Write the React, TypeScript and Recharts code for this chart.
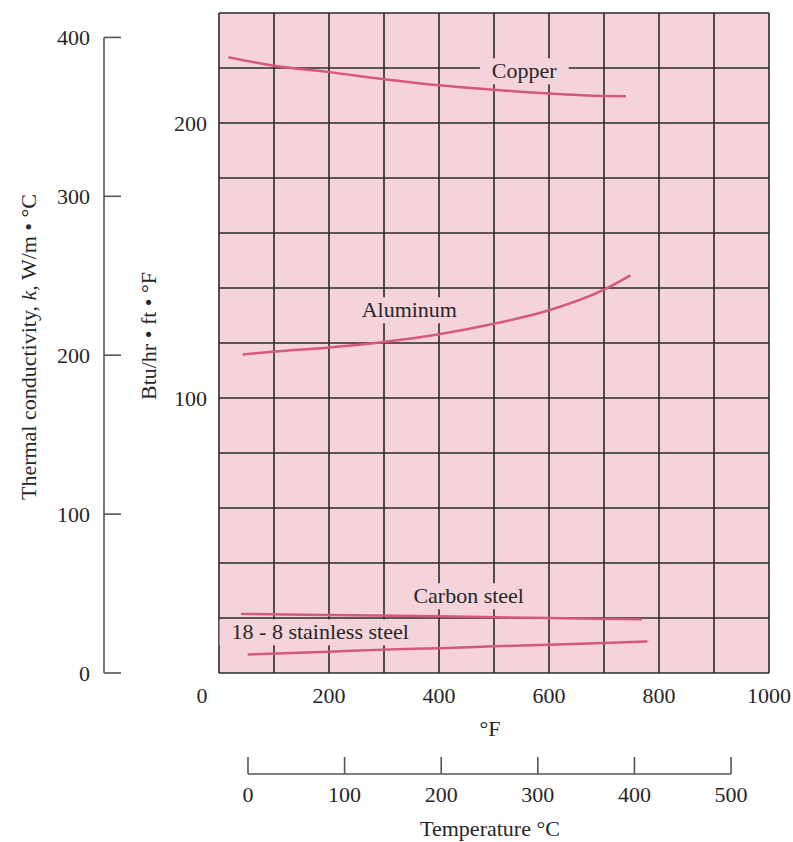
import { LineChart, Line, XAxis, YAxis, CartesianGrid, ReferenceDot } from "recharts";

// axis ticks
const fahrenheitTicks = [0, 100, 200, 300, 400, 500, 600, 700, 800, 900, 1000];
const fahrenheitLabels = [0, 200, 400, 600, 800, 1000];
const celsiusTicks = [0, 100, 200, 300, 400, 500];
const btuTicks = [0, 20, 40, 60, 80, 100, 120, 140, 160, 180, 200, 220, 240];
const btuLabels = [100, 200];
const wattTicks = [0, 100, 200, 300, 400];

// curves: temperature in °F, k in Btu/hr·ft·°F
const copperF = [17, 100, 200, 300, 400, 500, 600, 700, 740];
const copperK = [223.9, 220.8, 218.5, 215.9, 213.7, 212.1, 210.7, 209.8, 209.7];
const aluminumF = [43, 100, 200, 300, 400, 500, 600, 700, 748];
const aluminumK = [115.8, 116.9, 118.4, 120.4, 123.2, 127.0, 131.9, 139.4, 144.6];
const carbonSteelF = [40, 200, 400, 600, 769];
const carbonSteelK = [21.5, 21.1, 20.6, 20.0, 19.5];
const stainlessF = [52, 200, 300, 400, 500, 600, 700, 779];
const stainlessK = [6.7, 7.7, 8.5, 9.0, 9.7, 10.3, 10.9, 11.5];

// curve names and where their labels sit (°F, Btu)
const seriesNames = ["Copper", "Aluminum", "Carbon steel", "18 - 8 stainless steel"];
const labelF = [555, 346, 454, 184];
const labelK = [218.8, 131.9, 27.9, 14.8];

const W_PER_BTU = 1.7307;
const BTU_MAX = 240;
const C_MIN = -30;
const C_MAX = 539.3;

const WIDTH = 793;
const HEIGHT = 842;
const MARGIN = { top: 13, right: 24, bottom: 8, left: 0 };
const BTU_AXIS_W = 115;
const W_AXIS_W = 104;
const F_AXIS_H = 101;
const C_AXIS_H = 60;
const PLOT_W = WIDTH - MARGIN.left - MARGIN.right - BTU_AXIS_W - W_AXIS_W;
const PLOT_H = HEIGHT - MARGIN.top - MARGIN.bottom - F_AXIS_H - C_AXIS_H;

const FONT = '"Liberation Serif", "Times New Roman", serif';
const FS = 22;
const INK = "#262626";
const PLOT_BG = "#f4d3db";
const CURVE = "#d6587c";
const GRID = "#2a2a2a";
const SCALE_INK = "#555";

const pairs = (xs: number[], ys: number[]) => xs.map((f, i) => ({ f, k: ys[i] }));
const curves = [
  pairs(copperF, copperK),
  pairs(aluminumF, aluminumK),
  pairs(carbonSteelF, carbonSteelK),
  pairs(stainlessF, stainlessK),
];
// empty helper so the °C scale has something bound to it
const celsiusHelper = celsiusTicks.map((c) => ({ c }));

let ctx: CanvasRenderingContext2D | null = null;
function textWidth(s: string) {
  if (!ctx) ctx = document.createElement("canvas").getContext("2d");
  if (!ctx) return s.length * FS * 0.45;
  ctx.font = `${FS}px ${FONT}`;
  return ctx.measureText(s).width;
}

function FTick({ x, y, payload }: any) {
  const v = payload.value;
  if (!fahrenheitLabels.includes(v)) return <g />;
  return (
    <text x={v === 0 ? x - 17 : x} y={y + 30} textAnchor="middle" fontFamily={FONT} fontSize={FS} fill={INK}>
      {v}
    </text>
  );
}

function CelsiusTick({ x, y, payload }: any) {
  const v = payload.value;
  const step = (PLOT_W * 100) / (C_MAX - C_MIN);
  const last = celsiusTicks[celsiusTicks.length - 1];
  return (
    <g>
      {v < last && <line x1={x} y1={y} x2={x + step} y2={y} stroke={SCALE_INK} strokeWidth={1.6} />}
      <line x1={x} y1={y} x2={x} y2={y - 17} stroke={SCALE_INK} strokeWidth={1.6} />
      <text x={x} y={y + 28} textAnchor="middle" fontFamily={FONT} fontSize={FS} fill={INK}>
        {v}
      </text>
    </g>
  );
}

function BtuTick({ x, y, payload }: any) {
  const v = payload.value;
  if (!btuLabels.includes(v)) return <g />;
  return (
    <text x={x} y={y + 8} textAnchor="end" fontFamily={FONT} fontSize={FS} fill={INK}>
      {v}
    </text>
  );
}

function WattTick({ x, y, payload }: any) {
  const v = payload.value;
  const step = (PLOT_H * 100) / (BTU_MAX * W_PER_BTU);
  return (
    <g>
      {v > 0 && <line x1={x} y1={y} x2={x} y2={y + step} stroke={SCALE_INK} strokeWidth={1.6} />}
      <line x1={x} y1={y} x2={x + 17} y2={y} stroke={SCALE_INK} strokeWidth={1.6} />
      <text x={x - 14} y={y + 8} textAnchor="end" fontFamily={FONT} fontSize={FS} fill={INK}>
        {v}
      </text>
    </g>
  );
}

function SeriesLabel({ viewBox, text }: any) {
  const cx = viewBox.x + (viewBox.width || 0) / 2;
  const cy = viewBox.y + (viewBox.height || 0) / 2;
  const w = textWidth(text) + 24;
  return (
    <g>
      <rect x={cx - w / 2} y={cy - 13} width={w} height={26} fill={PLOT_BG} />
      <text x={cx} y={cy + 7} textAnchor="middle" fontFamily={FONT} fontSize={FS} fill={INK}>
        {text}
      </text>
    </g>
  );
}

export default function App() {
  return (
    <div style={{ width: WIDTH, height: HEIGHT, background: "#fff" }}>
      <style>{"body{margin:0;}"}</style>
      <LineChart width={WIDTH} height={HEIGHT} margin={MARGIN}>
        <XAxis
          xAxisId="x1"
          dataKey="f"
          type="number"
          domain={[0, 1000]}
          ticks={fahrenheitTicks}
          interval={0}
          height={F_AXIS_H}
          tickSize={0}
          tickMargin={0}
          axisLine={false}
          tickLine={false}
          tick={(p: any) => <FTick {...p} />}
          label={{
            content: (p: any) => (
              <text
                x={p.viewBox.x + p.viewBox.width / 2 - 4}
                y={p.viewBox.y + 63}
                textAnchor="middle"
                fontFamily={FONT}
                fontSize={FS}
                fill={INK}
              >
                °F
              </text>
            ),
          }}
        />
        <XAxis
          xAxisId="x2"
          dataKey="c"
          type="number"
          domain={[C_MIN, C_MAX]}
          allowDataOverflow
          ticks={celsiusTicks}
          interval={0}
          height={C_AXIS_H}
          tickSize={0}
          tickMargin={0}
          axisLine={false}
          tickLine={false}
          tick={(p: any) => <CelsiusTick {...p} />}
          label={{
            content: (p: any) => (
              <text
                x={p.viewBox.x + p.viewBox.width / 2 - 4}
                y={p.viewBox.y + 62}
                textAnchor="middle"
                fontFamily={FONT}
                fontSize={FS}
                fill={INK}
              >
                Temperature °C
              </text>
            ),
          }}
        />
        <YAxis
          yAxisId="y1"
          type="number"
          domain={[0, BTU_MAX]}
          ticks={btuTicks}
          interval={0}
          width={BTU_AXIS_W}
          tickSize={0}
          tickMargin={12}
          axisLine={false}
          tickLine={false}
          tick={(p: any) => <BtuTick {...p} />}
          label={{
            content: (p: any) => {
              const cx = p.viewBox.x + 44;
              const cy = p.viewBox.y + p.viewBox.height / 2 - 7;
              return (
                <text
                  transform={`translate(${cx},${cy}) rotate(-90)`}
                  textAnchor="middle"
                  dominantBaseline="central"
                  fontFamily={FONT}
                  fontSize={FS}
                  fill={INK}
                >
                  Btu/hr • ft • °F
                </text>
              );
            },
          }}
        />
        <YAxis
          yAxisId="y2"
          type="number"
          domain={[0, BTU_MAX * W_PER_BTU]}
          allowDataOverflow
          ticks={wattTicks}
          interval={0}
          width={W_AXIS_W}
          tickSize={0}
          tickMargin={0}
          axisLine={false}
          tickLine={false}
          tick={(p: any) => <WattTick {...p} />}
          label={{
            content: (p: any) => {
              const cx = p.viewBox.x + 28;
              const cy = p.viewBox.y + p.viewBox.height / 2 + 4;
              return (
                <text
                  transform={`translate(${cx},${cy}) rotate(-90)`}
                  textAnchor="middle"
                  dominantBaseline="central"
                  fontFamily={FONT}
                  fontSize={FS}
                  fill={INK}
                >
                  Thermal conductivity, <tspan fontStyle="italic">k</tspan>, W/m • °C
                </text>
              );
            },
          }}
        />
        <CartesianGrid
          xAxisId="x1"
          yAxisId="y1"
          stroke={GRID}
          strokeWidth={1.6}
          fill={PLOT_BG}
          fillOpacity={1}
        />
        {seriesNames.map((name, i) => (
          <ReferenceDot
            key={name}
            xAxisId="x1"
            yAxisId="y1"
            x={labelF[i]}
            y={labelK[i]}
            r={0}
            fill="none"
            stroke="none"
            label={{ content: (p: any) => <SeriesLabel viewBox={p.viewBox} text={name} /> }}
          />
        ))}
        {curves.map((data, i) => (
          <Line
            key={seriesNames[i]}
            xAxisId="x1"
            yAxisId="y1"
            data={data}
            dataKey="k"
            type="monotone"
            stroke={CURVE}
            strokeWidth={2.5}
            dot={false}
            activeDot={false}
            isAnimationActive={false}
          />
        ))}
        <Line
          xAxisId="x2"
          yAxisId="y1"
          data={celsiusHelper}
          dataKey="k"
          stroke="none"
          dot={false}
          activeDot={false}
          legendType="none"
          isAnimationActive={false}
        />
      </LineChart>
    </div>
  );
}
